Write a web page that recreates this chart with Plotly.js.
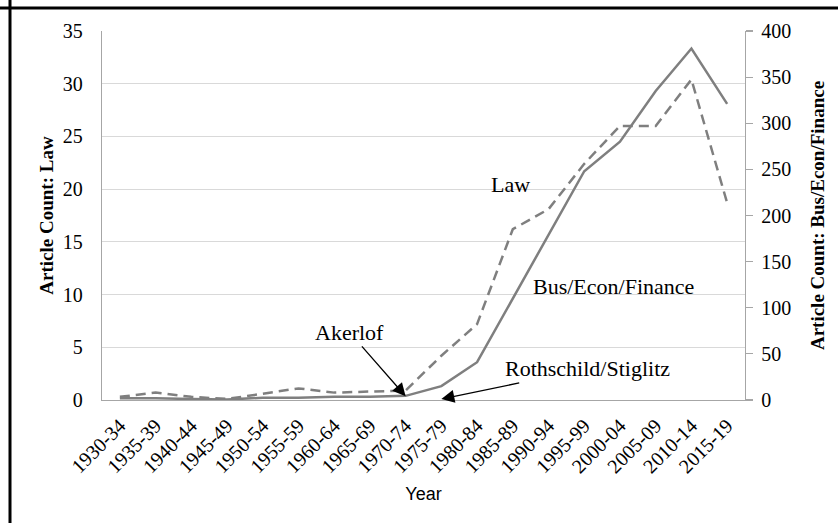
<!DOCTYPE html>
<html>
<head>
<meta charset="utf-8">
<script src="https://cdn.plot.ly/plotly-3.0.1.min.js"></script>
<style>html,body{margin:0;padding:0;background:#fff;}#chart{width:838px;height:523px;}</style>
</head>
<body>
<div id="chart"></div>
<script>
const periods = ["1930-34","1935-39","1940-44","1945-49","1950-54","1955-59","1960-64","1965-69","1970-74","1975-79","1980-84","1985-89","1990-94","1995-99","2000-04","2005-09","2010-14","2015-19"];
const lawCounts = [0.3,0.7,0.3,0.1,0.6,1.1,0.7,0.8,0.9,4.2,7.2,16.2,18.1,22.4,26.0,26.0,30.4,18.7];
const busCounts = [2,2,1,0.5,2.5,2.5,3.5,3.5,4.5,15,41,110,179,248,280,335,381,321];
const leftTicks = [0,5,10,15,20,25,30,35];
const rightTicks = [0,50,100,150,200,250,300,350,400];

const serif = "Liberation Serif, Times New Roman, serif";
const grey = "#7f7f7f";

const traces = [
  {x: periods, y: lawCounts, type: "scatter", mode: "lines", name: "Law",
   line: {color: grey, width: 2.5, dash: "10px,6px"}, yaxis: "y"},
  {x: periods, y: busCounts, type: "scatter", mode: "lines", name: "Bus/Econ/Finance",
   line: {color: grey, width: 2.5}, yaxis: "y2"}
];

const layout = {
  width: 838, height: 523,
  margin: {l: 102, r: 93, t: 31, b: 123},
  paper_bgcolor: "#fff", plot_bgcolor: "#fff",
  showlegend: false,
  xaxis: {
    type: "category", range: [-0.5, periods.length - 0.5],
    tickangle: -45, tickfont: {family: serif, size: 20, color: "#000"},
    showline: true, linecolor: "#a6a6a6", linewidth: 1.2,
    showgrid: false, ticks: "", zeroline: false, ticklabelstandoff: 5,
    title: {text: "Year", font: {family: "Liberation Sans, Arial, sans-serif", size: 18, color: "#000"}, standoff: 11}
  },
  yaxis: {
    range: [0, 35], tickvals: leftTicks, ticktext: leftTicks.map(String),
    tickfont: {family: serif, size: 20, color: "#000"},
    showline: true, linecolor: "#a6a6a6", linewidth: 1.2,
    showgrid: true, gridcolor: "#d9d9d9", gridwidth: 1.2,
    zeroline: false, ticks: "outside", ticklen: 0, ticklabelstandoff: 14,
    title: {text: "<b>Article Count: Law</b>", font: {family: serif, size: 19, color: "#000"}, standoff: 4}
  },
  yaxis2: {
    overlaying: "y", side: "right",
    range: [0, 400], tickvals: rightTicks, ticktext: rightTicks.map(String),
    tickfont: {family: serif, size: 20, color: "#000"},
    showline: true, linecolor: "#a6a6a6", linewidth: 1.2,
    showgrid: false, zeroline: false,
    ticks: "outside", ticklen: 7, tickcolor: "#a6a6a6", tickwidth: 1.2, ticklabelstandoff: 4,
    title: {text: "<b>Article Count: Bus/Econ/Finance</b>", font: {family: serif, size: 19, color: "#000"}, standoff: 20}
  },
  annotations: [
    {x: 10.94, y: 20.45, xref: "x", yref: "y", text: "Law", showarrow: false,
     font: {family: serif, size: 22, color: "#000"}},
    {x: 13.82, y: 10.75, xref: "x", yref: "y", text: "Bus/Econ/Finance", showarrow: false,
     font: {family: serif, size: 22, color: "#000"}},
    {x: 8, y: 0.35, xref: "x", yref: "y", text: "Akerlof", showarrow: true,
     ax: -56, ay: -64, arrowhead: 2, arrowsize: 2, arrowwidth: 1.3, arrowcolor: "#000",
     font: {family: serif, size: 22, color: "#000"}},
    {x: 9, y: 0.1, xref: "x", yref: "y", text: "Rothschild/Stiglitz", showarrow: true,
     ax: 146, ay: -30, arrowhead: 2, arrowsize: 2, arrowwidth: 1.3, arrowcolor: "#000",
     font: {family: serif, size: 22, color: "#000"}}
  ],
  shapes: [
    {type: "line", xref: "paper", yref: "paper", x0: 0, x1: 0, y0: -1, y1: 2,
     line: {color: "#000", width: 3}},
    {type: "line", xref: "paper", yref: "paper", x0: -1, x1: 2, y0: 1, y1: 1,
     line: {color: "#000", width: 3}}
  ]
};

// convert border pixel positions into paper coords
(function(){
  const pw = 838 - 102 - 93, ph = 523 - 31 - 123;
  layout.shapes[0].x0 = layout.shapes[0].x1 = (10 - 102) / pw;
  layout.shapes[1].y0 = layout.shapes[1].y1 = (523 - 123 - 8) / ph;
})();

Plotly.newPlot("chart", traces, layout, {displayModeBar: false, staticPlot: true});
</script>
</body>
</html>
